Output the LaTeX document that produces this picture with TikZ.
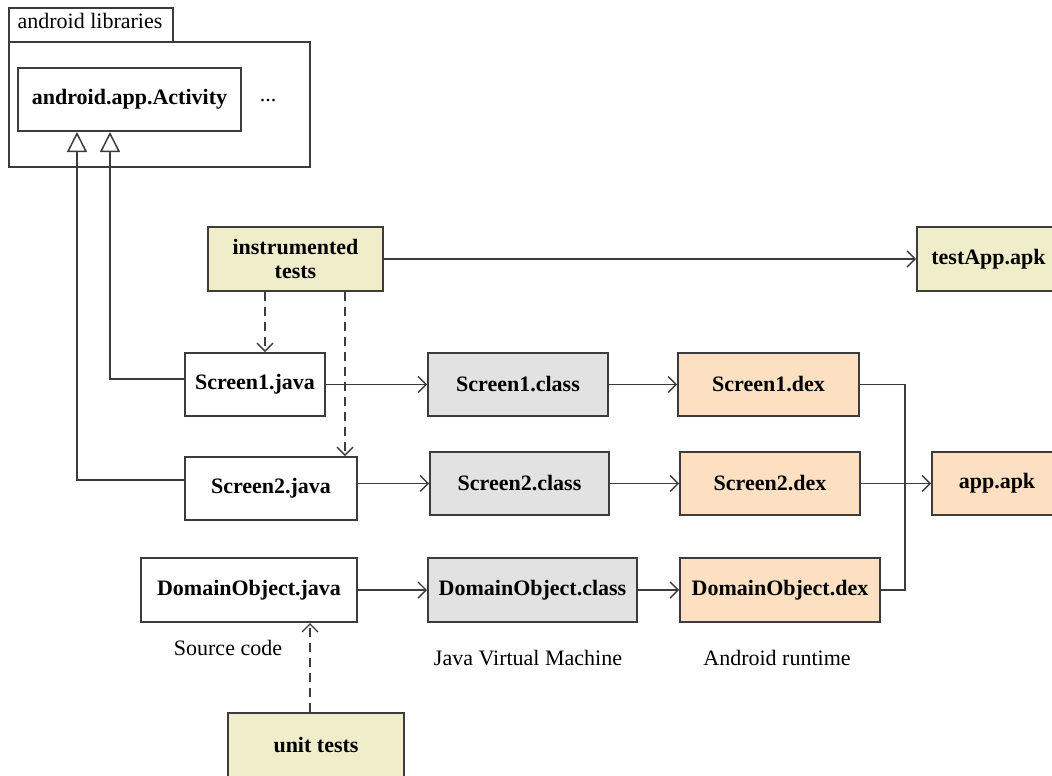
\documentclass[tikz,border=0pt]{standalone}
\usepackage{fontspec}
\setmainfont{Liberation Serif}
\usetikzlibrary{arrows.meta,calc}
\definecolor{linec}{HTML}{3C3C3C}
\definecolor{testfill}{HTML}{F0EECA}
\definecolor{dexfill}{HTML}{FDE0C2}
\definecolor{classfill}{HTML}{E2E2E2}
\begin{document}
\begin{tikzpicture}[x=1pt,y=-1pt,
  every node/.style={font=\fontsize{22}{25}\selectfont},
  box/.style={draw=linec,line width=2pt,inner sep=0pt,font=\fontsize{22}{25}\selectfont\bfseries},
  srcbox/.style={box,fill=white},
  classbox/.style={box,fill=classfill},
  dexbox/.style={box,fill=dexfill},
  testbox/.style={box,fill=testfill,align=center},
  flow/.style={draw=linec,line width=1.7pt,-{Straight Barb[length=8pt,width=16pt,line width=1.4pt]}},
  dep/.style={flow,dash pattern=on 9pt off 6pt},
  inh/.style={draw=linec,line width=1.7pt,-{Triangle[open,length=20pt,width=20pt,line width=1.5pt]}},
  plain/.style={draw=linec,line width=1.7pt}]
\useasboundingbox (0,0) rectangle (1052,776);

% package frame with its tab
\node[draw=linec,line width=1.7pt,minimum width=164pt,minimum height=34pt,inner sep=0pt] (tab) at (91,25) {};
\node (tablabel) at (90,21) {android libraries};
\node[draw=linec,line width=1.7pt,minimum width=301pt,minimum height=125pt,inner sep=0pt] (pkg) at (159.5,104.5) {};
\node[srcbox,minimum width=223pt,minimum height=63pt] (act) at (129.5,99.5) {android.app.Activity};
\node (more) at (268,101) {...};

% tests
\node[testbox,minimum width=175pt,minimum height=64pt] (inst) at (295.5,259) {instrumented\\[-1pt]tests};
\node[testbox,minimum width=143pt,minimum height=64pt] (testapk) at (988.5,259) {testApp.apk};
\node[testbox,minimum width=176pt,minimum height=64pt] (unit) at (316,745) {unit tests};

% sources
\node[srcbox,minimum width=140pt,minimum height=63pt] (s1j) at (255,384.5) {Screen1.java};
\node[srcbox,minimum width=172pt,minimum height=63pt] (s2j) at (271,488.5) {Screen2.java};
\node[srcbox,minimum width=216pt,minimum height=64pt] (doj) at (249,590) {DomainObject.java};

% class files
\node[classbox,minimum width=180pt,minimum height=63pt] (s1c) at (518,384.5) {Screen1.class};
\node[classbox,minimum width=179pt,minimum height=63pt] (s2c) at (519.5,483.5) {Screen2.class};
\node[classbox,minimum width=209pt,minimum height=64pt] (doc) at (532.5,590) {DomainObject.class};

% dex files
\node[dexbox,minimum width=181pt,minimum height=63pt] (s1d) at (768.5,384.5) {Screen1.dex};
\node[dexbox,minimum width=180pt,minimum height=63pt] (s2d) at (770,483.5) {Screen2.dex};
\node[dexbox,minimum width=200pt,minimum height=64pt] (dod) at (780,590) {DomainObject.dex};
\node[dexbox,minimum width=130pt,minimum height=63pt] (app) at (997,483.5) {app.apk};

% stage captions
\node (capsrc) at (228,648) {Source code};
\node (capjvm) at (528,658) {Java Virtual Machine};
\node (capart) at (777,658) {Android runtime};

% inheritance
\draw[inh] ([yshift=5.5pt]s1j.west) -| ($(act.south west)+(93,0)$);
\draw[inh] ([yshift=8.5pt]s2j.west) -| ($(act.south west)+(60,0)$);

% test dependencies
\draw[flow] (inst.east) -- (testapk.west);
\draw[dep] ([xshift=-30.5pt]inst.south) -- ([xshift=-30.5pt]inst.south |- s1j.north);
\draw[dep] ([xshift=49.5pt]inst.south) -- ([xshift=49.5pt]inst.south |- s2j.north);
\draw[dep] ([xshift=-6pt]unit.north) -- ([xshift=-6pt]unit.north |- doj.south);

% compilation chain
\draw[flow] (s1j.east) -- (s1c.west);
\draw[flow] (s2c.west -| s2j.east) -- (s2c.west);
\draw[flow] (doj.east) -- (doc.west);
\draw[flow] (s1c.east) -- (s1d.west);
\draw[flow] (s2c.east) -- (s2d.west);
\draw[flow] (doc.east) -- (dod.west);

% packaging into the apk
\coordinate (bus) at (905,0);
\draw[plain] (s1d.east) -- (s1d.east -| bus) -- (dod.east -| bus) -- (dod.east);
\draw[flow] (s2d.east) -- (app.west);
\end{tikzpicture}
\end{document}
